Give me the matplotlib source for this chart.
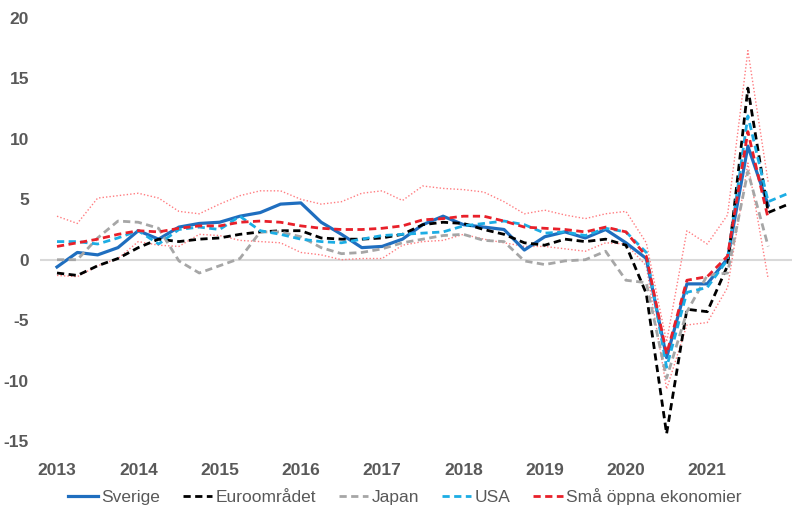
import matplotlib
matplotlib.use("Agg")
import matplotlib.pyplot as plt
import numpy as np

year_labels = ["2013", "2014", "2015", "2016", "2017", "2018", "2019", "2020", "2021"]

sverige = [-0.6, 0.6, 0.4, 1.0, 2.4, 1.7, 2.7, 3.0, 3.1, 3.6, 3.9, 4.6, 4.7, 3.1, 2.1, 1.0,
           1.1, 1.7, 2.9, 3.6, 2.9, 2.7, 2.5, 0.8, 1.9, 2.3, 1.8, 2.5, 1.4, 0.1, -8.1, -2.0,
           -2.0, 0.1, 9.4, 4.5]
euro = [-1.1, -1.3, -0.5, 0.1, 1.0, 1.7, 1.5, 1.7, 1.8, 2.1, 2.3, 2.4, 2.4, 1.8, 1.7, 1.7,
        1.8, 2.1, 2.9, 3.1, 3.0, 2.5, 2.1, 1.4, 1.2, 1.7, 1.5, 1.7, 1.2, -2.8, -14.4, -4.1,
        -4.3, -0.5, 14.2, 3.9, 4.6]
japan = [0.0, 0.0, 1.8, 3.2, 3.1, 2.6, -0.1, -1.1, -0.5, 0.1, 2.3, 2.3, 1.9, 1.0, 0.5, 0.6,
         0.9, 1.4, 1.7, 2.0, 2.1, 1.6, 1.5, -0.1, -0.4, -0.1, 0.0, 0.7, -1.7, -1.9, -9.8, -4.3,
         -1.3, -1.1, 7.3, 1.1]
usa = [1.5, 1.5, 1.3, 1.8, 2.4, 1.3, 2.5, 2.7, 2.5, 3.6, 2.4, 2.1, 1.7, 1.5, 1.4, 1.7,
       2.0, 2.1, 2.2, 2.3, 2.8, 3.0, 3.2, 2.9, 2.2, 2.3, 2.0, 2.6, 2.3, 0.6, -8.9, -2.7,
       -2.3, 0.0, 11.9, 4.8, 5.5]
sma = [1.1, 1.4, 1.7, 2.1, 2.4, 2.3, 2.6, 2.8, 2.8, 3.1, 3.2, 3.1, 2.8, 2.6, 2.5, 2.5,
       2.6, 2.8, 3.3, 3.4, 3.6, 3.6, 3.2, 2.7, 2.6, 2.5, 2.3, 2.7, 2.3, 0.3, -7.8, -1.7,
       -1.4, 0.3, 10.6, 3.4]
sma_max = [3.6, 3.0, 5.1, 5.3, 5.5, 5.1, 4.0, 3.8, 4.6, 5.3, 5.7, 5.7, 5.0, 4.6, 4.8, 5.5,
           5.7, 4.9, 6.1, 5.9, 5.8, 5.6, 4.8, 3.8, 4.1, 3.7, 3.4, 3.8, 4.0, 1.4, -6.8, 2.4,
           1.3, 3.7, 17.3, 6.4]
sma_min = [-1.3, -1.4, -0.5, 0.1, 1.5, 1.2, 1.1, 2.1, 2.0, 1.6, 1.5, 1.4, 0.6, 0.4, 0.0, 0.1,
           0.1, 1.2, 1.5, 1.6, 2.1, 1.7, 1.4, 1.1, 1.1, 0.9, 0.7, 1.4, 1.3, -0.5, -10.7, -5.4,
           -5.2, -2.3, 8.0, -1.6]

plt.rcParams['font.family'] = ['Liberation Sans Narrow', 'Liberation Sans', 'DejaVu Sans']

fig = plt.figure(figsize=(7.94, 5.20), dpi=100)
W, H = 794, 520
ax = fig.add_axes([40 / W, 1 - 441 / H, (792 - 40) / W, (441 - 18) / H])

grey_txt = '#595959'
ax.axhline(0, color='#D9D9D9', lw=1.5, zorder=1)

def xs(arr):
    return np.arange(len(arr))

band_col = '#FF7C80'
ax.plot(xs(sma_max), sma_max, color=band_col, lw=1.0, ls=(0, (1, 1.5)), zorder=2)
ax.plot(xs(sma_min), sma_min, color=band_col, lw=1.0, ls=(0, (1, 1.5)), zorder=2)

dash = (0, (2.6, 1.6))
l1, = ax.plot(xs(sverige), sverige, color='#1F6EBF', lw=2.3, label='Sverige', zorder=3)
l2, = ax.plot(xs(euro), euro, color='black', lw=2.0, ls=dash, label='Euroområdet', zorder=4)
l3, = ax.plot(xs(japan), japan, color='#A6A6A6', lw=2.0, ls=dash, label='Japan', zorder=4)
l4, = ax.plot(xs(usa), usa, color='#1CADE4', lw=2.0, ls=dash, label='USA', zorder=5)
l5, = ax.plot(xs(sma), sma, color='#E8202A', lw=2.0, ls=dash, label='Små öppna ekonomier', zorder=6)

x0 = 57
step = 20.32
ax.set_xlim((40 - x0) / step, (792 - x0) / step)
ax.set_ylim(-15, 20)
ax.set_yticks(np.arange(-15, 21, 5))
ax.set_yticklabels([str(v) for v in range(-15, 21, 5)])
ax.set_xticks(np.arange(0, 4 * len(year_labels), 4))
ax.set_xticklabels(year_labels)

for s in ax.spines.values():
    s.set_visible(False)
ax.tick_params(axis='both', length=0, labelcolor=grey_txt, labelsize=12.5)
ax.tick_params(axis='y', pad=8)
ax.tick_params(axis='x', pad=16)
for lab in ax.get_xticklabels() + ax.get_yticklabels():
    lab.set_fontweight('bold')

leg = fig.legend(handles=[l1, l2, l3, l4, l5], loc='center', bbox_to_anchor=(0.51, 1 - 497 / H),
                 ncol=5, frameon=False, fontsize=12.5, handlelength=1.7, handletextpad=0.2,
                 columnspacing=1.3, labelcolor=grey_txt)

fig.savefig('out.png', dpi=100)
